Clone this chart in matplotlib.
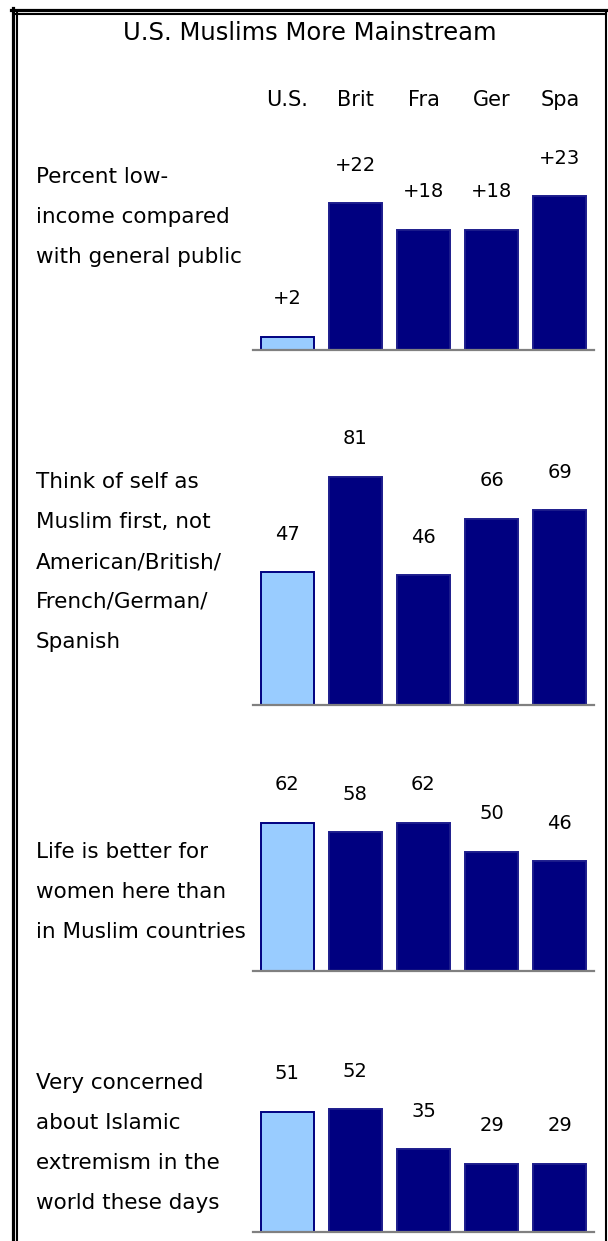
import matplotlib
matplotlib.use("Agg")
import matplotlib.pyplot as plt
from matplotlib.lines import Line2D
from matplotlib import transforms

plt.rcParams['font.family'] = ['DejaVu Sans']

title = "U.S. Muslims More Mainstream"
countries = ["U.S.", "Brit", "Fra", "Ger", "Spa"]

questions = [
    ["Percent low-", "income compared", "with general public"],
    ["Think of self as", "Muslim first, not", "American/British/", "French/German/", "Spanish"],
    ["Life is better for", "women here than", "in Muslim countries"],
    ["Very concerned", "about Islamic", "extremism in the", "world these days"],
]
low_income = [2, 22, 18, 18, 23]
muslim_first = [47, 81, 46, 66, 69]
women_better = [62, 58, 62, 50, 46]
concerned = [51, 52, 35, 29, 29]
series = [low_income, muslim_first, women_better, concerned]
signed = [True, False, False, False]

W, H = 608, 1241
def fx(px):
    return px / W
def fy(py):
    return 1 - py / H

light = "#99ccff"
navy = "#000080"

fig = plt.figure(figsize=(W / 100, H / 100), dpi=100)

# frame (cut at right and bottom like the original)
fig.add_artist(Line2D([fx(11), fx(608)], [fy(9.5), fy(9.5)], color="black", lw=2.3, transform=fig.transFigure))
fig.add_artist(Line2D([fx(12.5), fx(12.5)], [fy(8), fy(1241)], color="black", lw=2.3, transform=fig.transFigure))
fig.add_artist(Line2D([fx(15.5), fx(606)], [fy(14), fy(14)], color="black", lw=1.5, transform=fig.transFigure))
fig.add_artist(Line2D([fx(16.5), fx(16.5)], [fy(13), fy(1241)], color="black", lw=1.5, transform=fig.transFigure))
fig.add_artist(Line2D([fx(605.5), fx(605.5)], [fy(13), fy(1241)], color="black", lw=1.5, transform=fig.transFigure))

fig.text(fx(310), fy(33), title, ha="center", va="center", fontsize=17.5)

baselines = [350, 705, 971, 1232]
scales = [6.68, 2.82, 2.39, 2.36]   # pixels per unit in each panel
text_centers = [217, 562, 892, 1143]
axis_h = 260

for k in range(4):
    base = baselines[k]
    ax = fig.add_axes([fx(253), fy(base), fx(594) - fx(253), axis_h / H])
    xs = list(range(len(countries)))
    vals = series[k]
    colors = [light] + [navy] * 4
    edges = [navy] + ["#1c1c8c"] * 4
    ax.bar(xs, vals, width=0.775, color=colors, edgecolor=edges, linewidth=1.4)
    ax.set_xlim(-0.5, 4.5)
    ax.set_ylim(0, axis_h / scales[k])
    for s in ["top", "left", "right"]:
        ax.spines[s].set_visible(False)
    ax.spines["bottom"].set_color("#808080")
    ax.spines["bottom"].set_linewidth(1.6)
    ax.set_xticks([])
    ax.set_yticks([])
    ax.patch.set_alpha(0)
    for x, v in zip(xs, vals):
        lab = ("+%d" % v) if signed[k] else ("%d" % v)
        ax.annotate(lab, (x, v), xytext=(0, 38 * 0.72), textcoords="offset points",
                    ha="center", va="center", fontsize=14)
    if k == 0:
        tr = transforms.blended_transform_factory(ax.transData, fig.transFigure)
        for x, c in zip(xs, countries):
            ax.text(x, fy(100), c, transform=tr, ha="center", va="center", fontsize=15)
    lines = questions[k]
    n = len(lines)
    for i, line in enumerate(lines):
        y = text_centers[k] + (i - (n - 1) / 2) * 40
        fig.text(fx(36), fy(y), line, ha="left", va="center", fontsize=15.5)

fig.savefig("out.png", dpi=100, facecolor="white")
